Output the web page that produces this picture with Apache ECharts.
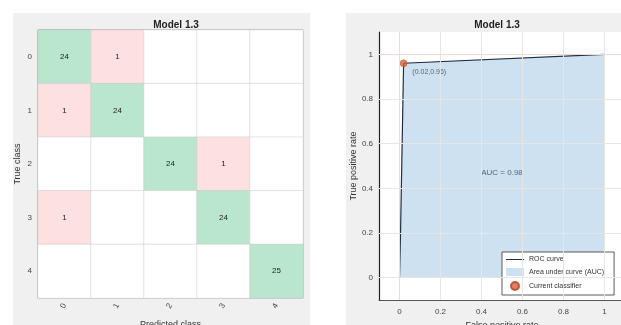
<!DOCTYPE html>
<html>
<head>
<meta charset="utf-8">
<script src="https://cdn.jsdelivr.net/npm/echarts@6/dist/echarts.min.js"></script>
<style>
  html, body { margin: 0; padding: 0; background: #fff; }
  #chart { width: 621px; height: 325px; }
</style>
</head>
<body>
<div id="chart"></div>
<script>
// Confusion matrix (rows = true class, cols = predicted class)
const classLabels = ['0', '1', '2', '3', '4'];
const confRow0 = [24, 1, 0, 0, 0];
const confRow1 = [1, 24, 0, 0, 0];
const confRow2 = [0, 0, 24, 1, 0];
const confRow3 = [1, 0, 0, 24, 0];
const confRow4 = [0, 0, 0, 0, 25];
const confRows = [confRow0, confRow1, confRow2, confRow3, confRow4];

// ROC curve
const rocFpr = [0, 0.005, 0.02, 1];
const rocTpr = [0, 0.2, 0.96, 1];
const currentPoint = [0.02, 0.96];
const aucText = 'AUC = 0.98';
const rocTicks = [0, 0.2, 0.4, 0.6, 0.8, 1];

const GREEN = '#b9e6cd';
const PINK = '#fde1e1';
const FILL = '#cde1f0';

const heatData = [];
confRows.forEach((row, r) => {
  row.forEach((v, c) => {
    heatData.push({
      value: [c, r, v],
      itemStyle: { color: v === 0 ? '#ffffff' : (r === c ? GREEN : PINK) },
      label: { show: v > 0 }
    });
  });
});

const rocData = rocFpr.map((x, i) => [x, rocTpr[i]]);

const chart = echarts.init(document.getElementById('chart'), null, { renderer: 'canvas' });

const tickFont = { fontFamily: 'Liberation Sans, Arial, sans-serif', fontSize: 8, color: '#444' };

chart.setOption({
  animation: false,
  textStyle: { fontFamily: 'Liberation Sans, Arial, sans-serif' },
  graphic: [
    { type: 'rect', shape: { x: 13, y: 13, width: 297, height: 312 }, style: { fill: '#f0f0f0' }, z: -10 },
    { type: 'rect', shape: { x: 346, y: 13, width: 275, height: 312 }, style: { fill: '#f0f0f0' }, z: -10 }
  ],
  title: [
    { text: 'Model 1.3', left: 171, top: 15, textAlign: 'center',
      textStyle: { fontSize: 10, fontWeight: 'bold', color: '#222' } },
    { text: 'Model 1.3', left: 492, top: 15, textAlign: 'center',
      textStyle: { fontSize: 10, fontWeight: 'bold', color: '#222' } }
  ],
  legend: {
    orient: 'vertical',
    left: 502, top: 252,
    width: 115,
    backgroundColor: '#ffffff',
    borderColor: '#333',
    borderWidth: 0.8,
    borderRadius: 0,
    padding: [4, 10, 4, 4],
    itemGap: 5,
    itemWidth: 18,
    itemHeight: 8,
    textStyle: { fontSize: 7, color: '#333' },
    data: [
      { name: 'ROC curve', icon: 'path://M0,4L18,4L18,5L0,5Z', itemStyle: { color: '#1f2f45' } },
      { name: 'Area under curve (AUC)', icon: 'rect', itemStyle: { color: FILL } },
      { name: 'Current classifier', icon: 'circle', itemStyle: { color: '#d9603b' } }
    ]
  },
  grid: [
    { left: 38, top: 30, width: 265, height: 268, show: true, borderColor: '#7a7a7a', borderWidth: 1,
      backgroundColor: '#fff', outerBoundsMode: 'none', containLabel: false },
    { left: 379, top: 32, width: 246, height: 268, show: true, backgroundColor: '#fff', borderWidth: 0,
      outerBoundsMode: 'none', containLabel: false }
  ],
  xAxis: [
    {
      gridIndex: 0, type: 'category', data: classLabels,
      name: 'Predicted class', nameLocation: 'middle', nameGap: 22,
      nameTextStyle: { fontSize: 9, color: '#333' },
      axisLine: { show: false }, axisTick: { show: false },
      axisLabel: Object.assign({ rotate: 60, margin: 6 }, tickFont),
      splitLine: { show: true, lineStyle: { color: '#c8c8c8', width: 1 } }
    },
    {
      gridIndex: 1, type: 'value', min: -0.1, max: 1.1,
      name: 'False positive rate', nameLocation: 'middle', nameGap: 20,
      nameTextStyle: { fontSize: 9, color: '#333' },
      axisLine: { show: true, onZero: false, lineStyle: { color: '#555', width: 1 } },
      axisTick: { show: true, customValues: rocTicks, length: 3, inside: true, lineStyle: { color: '#555' } },
      axisLabel: Object.assign({ customValues: rocTicks, margin: 8 }, tickFont),
      splitLine: { show: false }
    }
  ],
  yAxis: [
    {
      gridIndex: 0, type: 'category', data: classLabels, inverse: true,
      name: 'True class', nameLocation: 'middle', nameGap: 16,
      nameTextStyle: { fontSize: 9, color: '#333' },
      axisLine: { show: false }, axisTick: { show: false },
      axisLabel: Object.assign({ margin: 6 }, tickFont),
      splitLine: { show: true, lineStyle: { color: '#c8c8c8', width: 1 } }
    },
    {
      gridIndex: 1, type: 'value', min: -0.1, max: 1.1,
      name: 'True positive rate', nameLocation: 'middle', nameGap: 21,
      nameTextStyle: { fontSize: 9, color: '#333' },
      axisLine: { show: true, onZero: false, lineStyle: { color: '#222', width: 1.2 } },
      axisTick: { show: true, customValues: rocTicks, length: 3, inside: true, lineStyle: { color: '#555' } },
      axisLabel: Object.assign({ customValues: rocTicks, margin: 6 }, tickFont),
      splitLine: { show: false }
    }
  ],
  series: [
    {
      type: 'heatmap', xAxisIndex: 0, yAxisIndex: 0,
      data: heatData,
      itemStyle: { borderColor: '#c8c8c8', borderWidth: 0.5 },
      label: { color: '#222', fontSize: 8, formatter: p => p.value[2] },
      emphasis: { disabled: true }
    },
    {
      // grid lines of the ROC axes
      type: 'line', xAxisIndex: 1, yAxisIndex: 1, data: [], silent: true,
      markLine: {
        silent: true, symbol: 'none', label: { show: false },
        lineStyle: { color: '#e6e6e6', type: 'solid', width: 1 },
        data: rocTicks.map(v => ({ xAxis: v })).concat(rocTicks.map(v => ({ yAxis: v })))
      }
    },
    {
      // faint reference lines through the operating point
      type: 'line', xAxisIndex: 1, yAxisIndex: 1, data: [], silent: true,
      markLine: {
        silent: true, symbol: 'none', label: { show: false },
        lineStyle: { color: '#f6d6d6', type: 'solid', width: 1 },
        data: [{ xAxis: 0 }, { yAxis: 1 }]
      }
    },
    {
      name: 'Area under curve (AUC)', type: 'line', xAxisIndex: 1, yAxisIndex: 1,
      data: rocData, showSymbol: false, lineStyle: { width: 0 },
      itemStyle: { color: FILL },
      areaStyle: { color: FILL, opacity: 1, origin: 0 },
      z: 2
    },
    {
      name: 'ROC curve', type: 'line', xAxisIndex: 1, yAxisIndex: 1,
      data: rocData, showSymbol: false,
      lineStyle: { color: '#1f2f45', width: 1.2 },
      itemStyle: { color: '#1f2f45' },
      z: 3
    },
    {
      name: 'Current classifier', type: 'scatter', xAxisIndex: 1, yAxisIndex: 1,
      data: [currentPoint], symbolSize: 7,
      itemStyle: { color: '#d9603b', borderColor: '#b04020', borderWidth: 0.5 },
      label: {
        show: true, position: 'right', offset: [0, 9], fontSize: 7, color: '#34465e',
        formatter: p => '(' + p.value[0].toFixed(2) + ',' + p.value[1].toFixed(2) + ')'
      },
      z: 4
    },
    {
      type: 'scatter', xAxisIndex: 1, yAxisIndex: 1,
      data: [[0.5, 0.47]], symbolSize: 0, silent: true,
      label: { show: true, position: 'inside', fontSize: 8, color: '#34465e', formatter: aucText },
      z: 4
    }
  ]
});
</script>
</body>
</html>
